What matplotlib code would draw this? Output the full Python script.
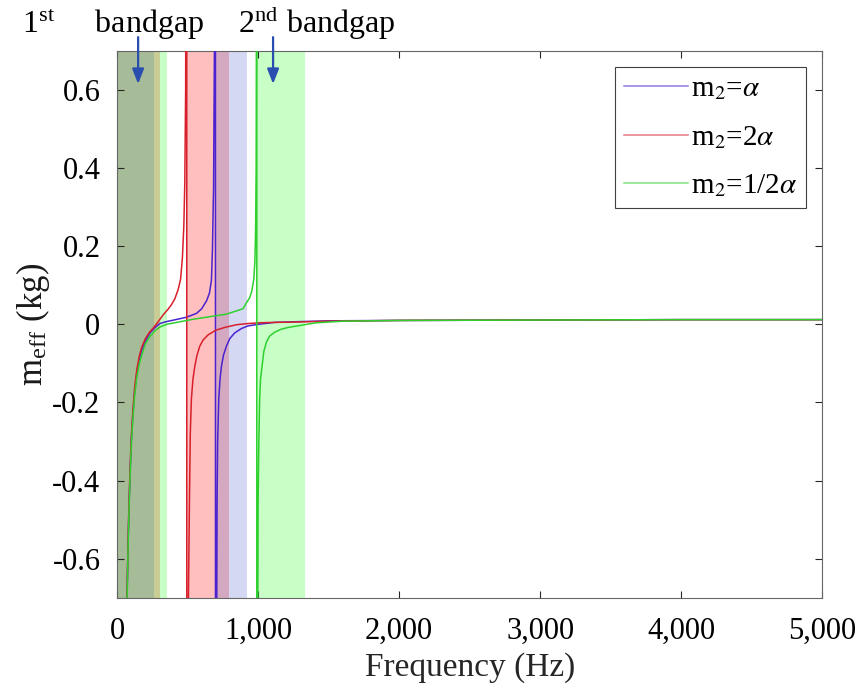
import matplotlib
matplotlib.use('Agg')
import matplotlib.pyplot as plt
from matplotlib.ticker import FuncFormatter

plt.rcParams['font.family'] = 'serif'
plt.rcParams['font.serif'] = ['Liberation Serif', 'DejaVu Serif']
plt.rcParams['mathtext.fontset'] = 'stix'

# m2 = alpha
f_blue = [60, 71, 78, 85, 93, 102, 112, 125, 140, 158, 175, 200, 232, 270, 303, 350, 415, 490,
          563, 600, 634, 655, 669, 676, 684, 690, 694, 697, 698, 701, 704, 707, 709, 713, 721,
          730, 740, 755, 775, 800, 834, 880, 928, 1000, 1118, 1300, 1500, 2000, 3000, 4000, 5000]
m_blue = [-1.0, -0.69, -0.56, -0.46, -0.37, -0.29, -0.23, -0.17, -0.125, -0.09, -0.066, -0.043,
          -0.022, -0.008, 0.002, 0.007, 0.012, 0.018, 0.028, 0.04, 0.06, 0.08, 0.113, 0.19, 0.35,
          0.7, 2.0, 30, -30, -4.0, -1.4, -0.69, -0.45, -0.30, -0.19, -0.14, -0.107, -0.078, -0.056,
          -0.036, -0.022, -0.011, -0.004, 0.0, 0.005, 0.007, 0.009, 0.010, 0.011, 0.012, 0.012]

# m2 = 2 alpha
f_red = [60, 71, 78, 85, 93, 102, 112, 125, 140, 158, 175, 200, 230, 255, 290, 326, 360, 385, 410,
         432, 450, 463, 473, 480, 486, 490, 493, 495, 499, 503, 506, 513, 519, 527, 538, 551, 566,
         586, 610, 645, 700, 763, 846, 928, 1011, 1118, 1283, 1500, 2000, 3000, 4000, 5000]
m_red = [-1.0, -0.68, -0.55, -0.45, -0.36, -0.28, -0.22, -0.16, -0.115, -0.08, -0.058, -0.037,
         -0.02, -0.01, 0.006, 0.024, 0.038, 0.05, 0.066, 0.088, 0.115, 0.17, 0.25, 0.36, 0.6, 1.2,
         30, -30, -4.0, -1.4, -0.69, -0.45, -0.28, -0.19, -0.14, -0.107, -0.08, -0.056, -0.04,
         -0.027, -0.015, -0.008, -0.001, 0.002, 0.004, 0.005, 0.006, 0.008, 0.010, 0.011, 0.012,
         0.012]

# m2 = 1/2 alpha
f_green = [60, 71, 78, 85, 93, 102, 112, 125, 140, 158, 175, 200, 232, 270, 303, 350, 409, 480,
           540, 646, 775, 834, 893, 917, 940, 955, 969, 977, 982, 986, 989, 990, 991, 994, 997,
           998, 1000, 1005, 1011, 1017, 1028, 1040, 1059, 1082, 1118, 1160, 1212, 1295, 1413, 1600,
           2000, 3000, 4000, 5000]
m_green = [-1.0, -0.70, -0.57, -0.47, -0.38, -0.30, -0.24, -0.18, -0.135, -0.10, -0.078, -0.05,
           -0.031, -0.016, -0.007, 0.0, 0.004, 0.009, 0.013, 0.019, 0.026, 0.033, 0.04, 0.055,
           0.068, 0.085, 0.115, 0.16, 0.24, 0.4, 1.0, 30, -30, -4.0, -1.4, -0.69, -0.45, -0.30,
           -0.19, -0.14, -0.107, -0.07, -0.045, -0.03, -0.02, -0.013, -0.008, -0.003, 0.004, 0.008,
           0.010, 0.011, 0.012, 0.012]

# bandgaps (Hz)
gaps_blue = [(0, 264), (697, 920)]
gaps_red = [(0, 305), (494, 796)]
gaps_green = [(0, 352), (990, 1333)]

fig = plt.figure(figsize=(8.61, 6.96), dpi=100)
ax = fig.add_axes([0.136, 0.141, 0.819, 0.786])

for a, b in gaps_red:
    ax.axvspan(a, b, color=(1.0, 0.0, 0.0), alpha=0.25, lw=0, zorder=1)
for a, b in gaps_blue:
    ax.axvspan(a, b, color=(0.35, 0.4, 0.8), alpha=0.25, lw=0, zorder=1)
for a, b in gaps_green:
    ax.axvspan(a, b, color=(0.0, 1.0, 0.0), alpha=0.22, lw=0, zorder=1)

ax.plot(f_blue, m_blue, color='#4a22d0', lw=1.1, label=r'm$_2$=$\alpha$', zorder=3)
ax.plot(f_red, m_red, color='#d8202c', lw=1.1, label=r'm$_2$=2$\alpha$', zorder=3)
ax.plot(f_green, m_green, color='#2ed02e', lw=1.1, label=r'm$_2$=1/2$\alpha$', zorder=3)

ax.set_xlim(0, 5000)
ax.set_ylim(-0.7, 0.7)
ax.set_xticks([0, 1000, 2000, 3000, 4000, 5000])
ax.set_yticks([-0.6, -0.4, -0.2, 0, 0.2, 0.4, 0.6])
ax.xaxis.set_major_formatter(FuncFormatter(lambda v, p: f'{int(v):,}'))
ax.yaxis.set_major_formatter(FuncFormatter(lambda v, p: '0' if abs(v) < 1e-9 else f'{v:.1f}'))
ax.tick_params(direction='in', length=5, width=0.8, top=True, right=True,
               labelsize=22, colors='0.15', labelcolor='black')
ax.tick_params(axis='x', pad=14)
ax.tick_params(axis='y', pad=12)
for s in ax.spines.values():
    s.set_color('0.4')
    s.set_linewidth(0.8)

ax.set_xlabel('Frequency (Hz)', fontsize=24, labelpad=4, color='0.15')
ax.set_ylabel(r'm$_\mathregular{eff}$ (kg)', fontsize=25, labelpad=0, color='0.1')

leg = ax.legend(loc='upper right', fontsize=21, borderaxespad=0.55, handlelength=2.2,
                handletextpad=0.1, labelspacing=0.75, fancybox=False, framealpha=1,
                borderpad=0.3)
leg.get_frame().set_edgecolor('0.25')
leg.get_frame().set_linewidth(0.8)
for ln in leg.get_lines():
    ln.set_alpha(0.6)

# annotations
fig.text(0.026, 0.953, r'1$^{\mathregular{st}}$     bandgap', fontsize=23, va='baseline')
fig.text(0.276, 0.953, r'2$^{\mathregular{nd}}$ bandgap', fontsize=23, va='baseline')
for fx in [149, 1106]:
    ax.annotate('', xy=(fx, 0.615), xytext=(fx, 0.735), annotation_clip=False,
                arrowprops=dict(arrowstyle='-|>,head_length=0.9,head_width=0.35',
                                color='#2a4db0', lw=1.6, shrinkA=0, shrinkB=0), zorder=5)

fig.savefig('out.png', dpi=100)
